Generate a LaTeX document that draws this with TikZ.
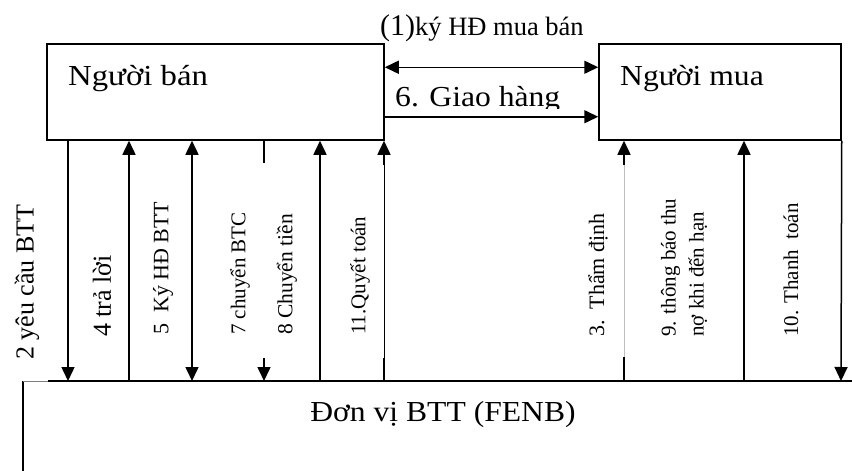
\documentclass[tikz,border=0pt]{standalone}
\usepackage{fontspec}
\setmainfont{Liberation Serif}
\usetikzlibrary{arrows.meta}
\begin{document}
\begin{tikzpicture}[x=1pt,y=-1pt,
  box/.style={draw,line width=1.5pt,inner sep=0pt},
  arr/.style={line width=1.5pt,-{Triangle[length=14pt,width=13pt]}},
  dbl/.style={line width=1.5pt,{Triangle[length=14pt,width=13pt]}-{Triangle[length=14pt,width=13pt]}},
  plain/.style={line width=1.5pt},
  big/.style={inner sep=0pt,font=\fontsize{29}{32}\selectfont},
  vlab/.style={inner sep=0pt,rotate=90,anchor=west,font=\fontsize{21}{25}\selectfont},
  vbig/.style={vlab,font=\fontsize{26}{30}\selectfont},
]
\useasboundingbox (0,0) rectangle (852,471);
% boxes
\node[box,minimum width=337pt,minimum height=96pt] (seller) at (215.5,92) {};
\node[box,minimum width=242pt,minimum height=96pt] (buyer) at (720,92) {};
\node[big,anchor=base west] (sellerlbl) at (68,85) {\scalebox{1.13}[1]{Người bán}};
\node[big,anchor=base west] (buyerlbl) at (620,85) {\scalebox{1.09}[1]{Người mua}};
% horizontal connectors
\draw[dbl] ([yshift=-24pt]seller.north east) -- ([yshift=-24pt]buyer.north west);
\draw[arr] ([yshift=24pt]seller.south east) -- ([yshift=24pt]buyer.south west);
\node[anchor=base west,inner sep=0pt] (lbl1) at (380,35) {{\fontsize{30}{32}\selectfont(1)}{\fontsize{26.5}{30}\selectfont ký HĐ mua bán}};
\begin{scope}
\clip (380,60) rectangle (600,108.5);
\node[big,anchor=base west] (lbl6) at (395,106) {\scalebox{1.09}[1]{6. Giao hàng}};
\end{scope}
% FENB unit
\coordinate (fnw) at (23,381);
\coordinate (fsw) at (23,471);
\coordinate (fstart) at (48,381);
\coordinate (fne) at (852,381);
\draw[plain] (fsw) -- (fnw);
\draw[line width=0.6pt,gray] (fnw) -- (fstart);
\draw[plain] (fstart) -- (fne);
\node[big,anchor=base] (fenb) at (443,421) {\scalebox{1.09}[1]{Đơn vị BTT (FENB)}};
% vertical connectors, seller side
\coordinate (b2) at (68,381);
\coordinate (b4) at (129,381);
\coordinate (b5) at (192,381);
\coordinate (b7) at (264,381);
\coordinate (c7a) at (264,163);
\coordinate (c7b) at (264,358);
\coordinate (b8) at (320,381);
\coordinate (b11) at (384,381);
\coordinate (c11a) at (384,165);
\coordinate (c11b) at (384,358);
\draw[arr] (seller.south -| b2) -- (b2);
\draw[arr] (b4) -- (seller.south -| b4);
\draw[dbl] (seller.south -| b5) -- (b5);
\draw[plain] (seller.south -| b7) -- (c7a);
\draw[arr] (c7b) -- (b7);
\draw[arr] (b8) -- (seller.south -| b8);
\draw[plain] (b11) -- (c11b);
\draw[line width=0.8pt] (c11b) -- (c11a);
\draw[arr] (c11a) -- (seller.south -| b11);
% vertical connectors, buyer side
\coordinate (b3) at (624,381);
\coordinate (c3a) at (624,165);
\coordinate (c3b) at (624,357);
\coordinate (b9) at (744,381);
\coordinate (b10) at (841,381);
\draw[plain] (b3) -- (c3b);
\draw[line width=0.5pt,black!25] (c3b) -- (c3a);
\draw[arr] (c3a) -- (buyer.south -| b3);
\draw[arr] (b9) -- (buyer.south -| b9);
\draw[arr] (buyer.south east) -- (b10);
% labels
\node[vbig] (l2) at (27,360) {2 yêu cầu BTT};
\node[vbig] (l4) at (102,337) {4 trả lời};
\node[vlab,font=\fontsize{22}{25}\selectfont] (l5) at (163,335) {5\ \ Ký HĐ BTT};
\node[vlab] (l7) at (240,335) {7 chuyển BTC};
\node[vlab,font=\fontsize{21.5}{25}\selectfont] (l8) at (287,335) {8 Chuyển tiền};
\node[vlab] (l11) at (360,335) {11.Quyết toán};
\node[vlab,font=\fontsize{22}{25}\selectfont] (l3) at (598,337) {3.\ \ Thẩm định};
\node[vlab,align=left,font=\fontsize{21}{28}\selectfont] (l9) at (684,337) {9. thông báo thu\\nợ khi đến hạn};
\node[vlab] (l10) at (791,337) {10. Thanh\ \ toán};
\end{tikzpicture}
\end{document}
